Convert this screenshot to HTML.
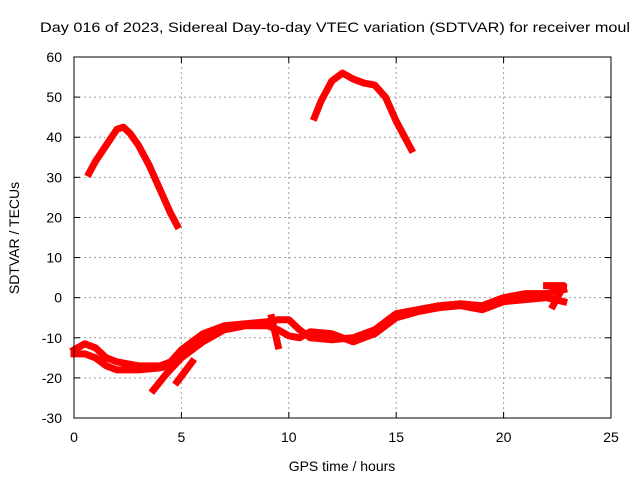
<!DOCTYPE html>
<html><head><meta charset="utf-8"><style>
body{margin:0;background:#fff}
svg text{font-family:"Liberation Sans",sans-serif;font-size:14px;fill:#000}
</style></head><body>
<svg width="640" height="480">
<g id="grid"></g>
<g id="ticks"></g>
<g id="series"></g>
<rect x="74" y="57" width="537" height="361" fill="none" stroke="#000" stroke-width="1"/>
<text x="40" y="32" textLength="590" lengthAdjust="spacingAndGlyphs">Day 016 of 2023, Sidereal Day-to-day VTEC variation (SDTVAR) for receiver moul</text>
<text x="342" y="471" text-anchor="middle">GPS time / hours</text>
<text x="0" y="0" transform="translate(19,238) rotate(-90)" text-anchor="middle">SDTVAR / TECUs</text>
</svg>
<script>
const xTicks=[0,5,10,15,20,25];
const yTicks=[-30,-20,-10,0,10,20,30,40,50,60];
const seriesA=[[0.7,31],[1,34],[1.5,38],[2,42],[2.3,42.5],[2.6,41],[3,38],[3.5,33],[4,27],[4.5,21],[4.8,18]];
const seriesB=[[11.2,45],[11.5,49],[12,54],[12.5,56],[13,54.5],[13.5,53.5],[14,53],[14.5,50],[15,44],[15.5,39],[15.7,37]];
const seriesC=[[0,-13],[0.5,-11.5],[1,-12.5],[1.5,-15],[2,-16],[3,-17],[4,-17],[4.5,-16],[5,-13],[5.5,-11],[6,-9],[7,-7],[8,-6.5],[9,-6],[9.5,-5.5],[10,-5.5],[10.5,-8],[11,-10],[12,-10.5],[13,-10],[14,-8],[14.5,-6],[15,-4],[16,-3],[17,-2],[18,-1.5],[19,-2],[20,0],[21,1],[22,1],[22.8,2]];
const seriesD=[[0,-14],[0.5,-14],[1,-15],[1.5,-17],[2,-18],[3,-18],[4,-17.5],[4.5,-17],[5,-15],[6,-11],[7,-8],[8,-7],[9,-7],[9.5,-8],[10,-9.5],[10.5,-10],[11,-8.5],[12,-9],[13,-11],[14,-9],[15,-5],[16,-3.5],[17,-2.5],[18,-2],[19,-3],[20,-1],[21,-0.5],[22,0],[22.8,-1]];
const branch1=[[3.7,-23],[4.3,-19],[5,-15]];
const branch2=[[4.8,-21],[5.5,-16]];
const branch3=[[9.2,-5],[9.5,-12]];
const branch4=[[22,3],[22.8,3],[22.3,-2]];
const allSeries=[seriesA,seriesB,seriesC,seriesD,branch1,branch2,branch3,branch4];
const NS="http://www.w3.org/2000/svg";
function X(h){return 74+h*(537/25);}
function Y(v){return 57+(60-v)*(361/90);}
const grid=document.getElementById('grid'),ticks=document.getElementById('ticks'),ser=document.getElementById('series');
function mk(tag,attrs,parent){const e=document.createElementNS(NS,tag);for(const k in attrs)e.setAttribute(k,attrs[k]);parent.appendChild(e);return e;}
xTicks.forEach(t=>{const x=X(t);
 if(t>0&&t<25){const g=mk('line',{x1:x,x2:x,y1:57,y2:418,stroke:'#a0a0a0','stroke-dasharray':'2,3'},grid);
 }
 mk('line',{x1:x,x2:x,y1:418,y2:412,stroke:'#000'},ticks);mk('line',{x1:x,x2:x,y1:57,y2:63,stroke:'#000'},ticks);
 const tx=mk('text',{x:x,y:442,'text-anchor':'middle'},ticks);tx.textContent=t;
 });
yTicks.forEach(t=>{const y=Y(t);
 if(t>-30&&t<60){const g=mk('line',{x1:74,x2:611,y1:y,y2:y,stroke:'#a0a0a0','stroke-dasharray':'2,3'},grid);
 }
 mk('line',{x1:74,x2:80,y1:y,y2:y,stroke:'#000'},ticks);mk('line',{x1:605,x2:611,y1:y,y2:y,stroke:'#000'},ticks);
 const tx=mk('text',{x:62,y:y+5,'text-anchor':'end'},ticks);tx.textContent=t;
 });
allSeries.forEach(s=>{const p=mk('polyline',{points:s.map(d=>X(d[0])+','+Y(d[1])).join(' '),fill:'none',stroke:'#ff0000','stroke-width':7,'stroke-linejoin':'round','stroke-linecap':'square'},ser);
 });
</script>
</body></html>
